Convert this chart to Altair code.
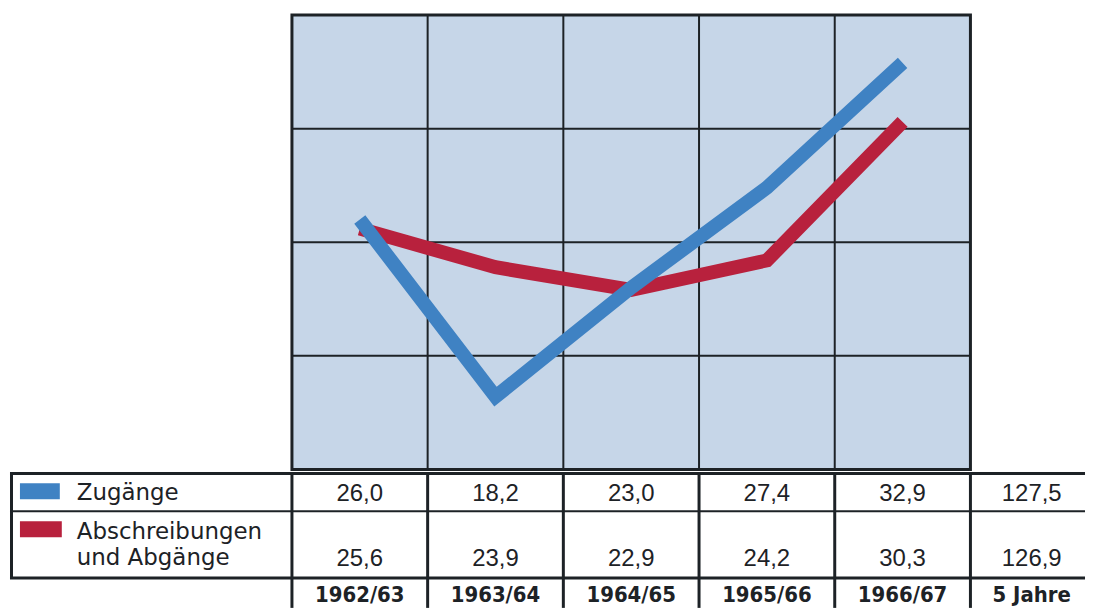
import altair as alt
import pandas as pd

# ---------------- data ----------------
years = ["1962/63", "1963/64", "1964/65", "1965/66", "1966/67"]
zugaenge = [26.0, 18.2, 23.0, 27.4, 32.9]
abschreibungen = [25.6, 23.9, 22.9, 24.2, 30.3]
total_label = "5 Jahre"
zugaenge_total = 127.5
abschreibungen_total = 126.9
series_names = ["Zugänge", "Abschreibungen und Abgänge"]
series_label_lines = [["Zugänge"], ["Abschreibungen", "und Abgänge"]]
y_grid = [15, 20, 25, 30, 35]

# ---------------- layout / style ----------------
COL_PX = 136.2
W = 1079
PLOT_H = 456
TABLE_H = 135
X_MIN = -283 / COL_PX
X_MAX = 5 + 115 / COL_PX
N = len(years)
ROW_EDGES = [0, 38, 105, 135]
BLUE = "#3f82c3"
RED = "#b8213d"
BG = "#c6d6e8"
INK = "#1d2226"
LABEL_FONT = "DejaVu Sans"
NUM_FONT = "Liberation Sans, Arial, sans-serif"
BOLD_FONT = "DejaVu Sans Condensed, DejaVu Sans"

def fmt(v):
    return f"{v:.1f}".replace(".", ",")

xs = alt.Scale(domain=[X_MIN, X_MAX], nice=False, zero=False)
ys = alt.Scale(domain=[y_grid[0], y_grid[-1]], nice=False, zero=False)

# ---------------- top: plot ----------------
bg = alt.Chart(pd.DataFrame({"x": [0], "x2": [N], "y": [y_grid[0]], "y2": [y_grid[-1]]})).mark_rect(
    fill=BG).encode(
    x=alt.X("x:Q", scale=xs, axis=None), x2="x2:Q",
    y=alt.Y("y:Q", scale=ys, axis=None), y2="y2:Q")

vgrid = alt.Chart(pd.DataFrame({"x": list(range(1, N)), "y": y_grid[0], "y2": y_grid[-1]})).mark_rule(
    color=INK, strokeWidth=2).encode(
    x=alt.X("x:Q", scale=xs, axis=None), y=alt.Y("y:Q", scale=ys, axis=None), y2="y2:Q")

hgrid = alt.Chart(pd.DataFrame({"y": y_grid[1:-1], "x": 0, "x2": N})).mark_rule(
    color=INK, strokeWidth=2).encode(
    y=alt.Y("y:Q", scale=ys, axis=None), x=alt.X("x:Q", scale=xs, axis=None), x2="x2:Q")

border = alt.Chart(pd.DataFrame({"x": [0], "x2": [N], "y": [y_grid[0]], "y2": [y_grid[-1]]})).mark_rect(
    fillOpacity=0, stroke=INK, strokeWidth=3).encode(
    x=alt.X("x:Q", scale=xs, axis=None), x2="x2:Q",
    y=alt.Y("y:Q", scale=ys, axis=None), y2="y2:Q")

rows = []
for i in range(N):
    rows.append({"series": series_names[0], "x": i + 0.5, "v": zugaenge[i]})
for i in range(N):
    rows.append({"series": series_names[1], "x": i + 0.5, "v": abschreibungen[i]})
lines_df = pd.DataFrame(rows)

red_line = alt.Chart(lines_df[lines_df.series == series_names[1]]).mark_line(
    strokeWidth=14, strokeCap="butt", strokeJoin="miter", color=RED).encode(
    x=alt.X("x:Q", scale=xs, axis=None), y=alt.Y("v:Q", scale=ys, axis=None), order="x:Q")
blue_line = alt.Chart(lines_df[lines_df.series == series_names[0]]).mark_line(
    strokeWidth=14, strokeCap="butt", strokeJoin="miter", color=BLUE).encode(
    x=alt.X("x:Q", scale=xs, axis=None), y=alt.Y("v:Q", scale=ys, axis=None), order="x:Q")

top = alt.layer(bg, vgrid, hgrid, red_line, blue_line, border).properties(width=W, height=PLOT_H)

# ---------------- bottom: table ----------------
ts = alt.Scale(domain=[0, TABLE_H], nice=False, zero=False, reverse=True)

hlines = alt.Chart(pd.DataFrame({
    "y": [ROW_EDGES[0], ROW_EDGES[1], ROW_EDGES[2]],
    "w": [3, 2, 3], "x": X_MIN, "x2": X_MAX})).mark_rule(color=INK).encode(
    y=alt.Y("y:Q", scale=ts, axis=None), x=alt.X("x:Q", scale=xs, axis=None), x2="x2:Q",
    strokeWidth=alt.StrokeWidth("w:Q", scale=None, legend=None))

vl = [{"x": X_MIN + 1.5 / COL_PX, "y": ROW_EDGES[0], "y2": ROW_EDGES[2]}]
for i in range(N + 1):
    vl.append({"x": i, "y": ROW_EDGES[0], "y2": ROW_EDGES[3]})
vlines = alt.Chart(pd.DataFrame(vl)).mark_rule(color=INK, strokeWidth=3).encode(
    x=alt.X("x:Q", scale=xs, axis=None), y=alt.Y("y:Q", scale=ts, axis=None), y2="y2:Q")

sw = pd.DataFrame({
    "s": series_names,
    "x": [X_MIN + 10 / COL_PX, X_MIN + 10 / COL_PX],
    "x2": [X_MIN + 50 / COL_PX, X_MIN + 52 / COL_PX],
    "y": [10, 48], "y2": [26, 64]})
swatches = alt.Chart(sw).mark_rect().encode(
    x=alt.X("x:Q", scale=xs, axis=None), x2="x2:Q",
    y=alt.Y("y:Q", scale=ts, axis=None), y2="y2:Q",
    color=alt.Color("s:N", scale=alt.Scale(domain=series_names, range=[BLUE, RED]), legend=None))

lab_rows = []
lab_y = [[20], [59, 85]]
for k, lines in enumerate(series_label_lines):
    for j, t in enumerate(lines):
        lab_rows.append({"t": t, "x": X_MIN + 67 / COL_PX, "y": lab_y[k][j]})
labels = alt.Chart(pd.DataFrame(lab_rows)).mark_text(
    align="left", baseline="middle", font=LABEL_FONT, fontSize=23, color=INK).encode(
    x=alt.X("x:Q", scale=xs, axis=None), y=alt.Y("y:Q", scale=ts, axis=None), text="t:N")

val_rows = []
for i in range(N):
    val_rows.append({"t": fmt(zugaenge[i]), "x": i + 0.5, "y": 21})
    val_rows.append({"t": fmt(abschreibungen[i]), "x": i + 0.5, "y": 86})
tot_x = N + (X_MAX - N) / 2 + 4 / COL_PX
val_rows.append({"t": fmt(zugaenge_total), "x": tot_x, "y": 21})
val_rows.append({"t": fmt(abschreibungen_total), "x": tot_x, "y": 86})
values = alt.Chart(pd.DataFrame(val_rows)).mark_text(
    align="center", baseline="middle", font=NUM_FONT, fontSize=24, color=INK).encode(
    x=alt.X("x:Q", scale=xs, axis=None), y=alt.Y("y:Q", scale=ts, axis=None), text="t:N")

yr_rows = [{"t": years[i], "x": i + 0.5, "y": 122} for i in range(N)]
yr_rows.append({"t": total_label, "x": tot_x, "y": 122})
yrs = alt.Chart(pd.DataFrame(yr_rows)).mark_text(
    align="center", baseline="middle", font=BOLD_FONT, fontSize=22, fontWeight="bold", color=INK).encode(
    x=alt.X("x:Q", scale=xs, axis=None), y=alt.Y("y:Q", scale=ts, axis=None), text="t:N")

bottom = alt.layer(swatches, hlines, vlines, labels, values, yrs).properties(width=W, height=TABLE_H)

chart = alt.vconcat(top, bottom, spacing=0).properties(
    padding={"top": 4, "left": 0, "right": 0, "bottom": 0},
    background="white"
).configure_view(strokeWidth=0)

chart.save("out.html", embed_options={"renderer": "svg", "actions": False})
